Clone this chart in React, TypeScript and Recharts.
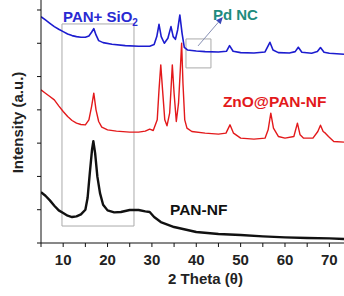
import { LineChart, Line, XAxis, YAxis, ReferenceArea, ReferenceDot, ReferenceLine } from 'recharts';

// 2θ positions and intensities (a.u., stacked offsets)
const panTheta = [5, 6, 7, 8, 9, 10, 11, 12, 13, 14, 15, 15.5, 16, 16.5, 16.8, 17.2, 17.7, 18.3, 19, 20, 21.5, 23, 25, 27, 28.5, 29.5, 30.5, 32, 35, 40, 45, 50, 55, 60, 65, 70, 73.3];
const panIntensity = [1.53, 1.42, 1.28, 1.12, 0.98, 0.9, 0.82, 0.78, 0.8, 0.86, 1.0, 1.35, 2.1, 2.8, 3.06, 2.7, 2.0, 1.5, 1.15, 0.98, 0.92, 0.93, 0.99, 0.99, 0.95, 0.93, 0.78, 0.63, 0.48, 0.33, 0.27, 0.24, 0.2, 0.17, 0.15, 0.14, 0.12];

const znoTheta = [5, 6, 7, 8, 9, 10, 11, 12, 13, 14, 15, 15.8, 16.4, 16.9, 17.4, 18, 18.7, 20, 22, 25, 27, 28.5, 29.5, 30.3, 31.2, 31.6, 32, 32.4, 32.9, 33.4, 34, 34.3, 34.6, 35, 35.5, 36, 36.4, 36.7, 37, 37.4, 37.9, 39, 42, 45, 46.7, 47.6, 48.4, 50, 53, 55.5, 56.2, 56.8, 57.4, 58.5, 60, 62, 62.8, 63.4, 64.2, 66.3, 67.4, 68, 68.6, 69.1, 69.8, 71, 73.3];
const znoIntensity = [4.6, 4.5, 4.4, 4.3, 4.12, 3.95, 3.8, 3.68, 3.6, 3.56, 3.55, 3.7, 4.1, 4.5, 4.0, 3.65, 3.48, 3.4, 3.36, 3.33, 3.33, 3.36, 3.42, 3.38, 3.7, 4.6, 5.35, 4.6, 3.7, 3.52, 3.9, 4.6, 5.35, 4.5, 3.65, 4.2, 5.2, 6.0, 4.8, 3.7, 3.45, 3.35, 3.3, 3.27, 3.3, 3.55, 3.3, 3.15, 3.12, 3.15, 3.4, 3.9, 3.45, 3.2, 3.15, 3.2, 3.6, 3.25, 3.15, 3.15, 3.35, 3.54, 3.35, 3.3, 3.2, 3.05, 3.03];

const sioTheta = [5, 6, 7, 8, 9, 10, 11, 12, 13, 14, 15, 15.8, 16.4, 16.9, 17.4, 18, 19, 21, 24, 27, 29.5, 30.5, 31.1, 31.6, 32.1, 32.8, 33.6, 34.3, 34.8, 35.3, 35.8, 36.3, 36.8, 37.3, 38, 40, 42, 45, 46.8, 47.5, 48.3, 50, 53, 55.5, 56.6, 57.3, 58.5, 61, 62.3, 63, 63.8, 66, 67.3, 68, 68.8, 70, 73.3];
const sioIntensity = [6.8, 6.7, 6.6, 6.5, 6.42, 6.35, 6.28, 6.23, 6.2, 6.18, 6.18, 6.22, 6.33, 6.44, 6.25, 6.08, 6.02, 5.97, 5.93, 5.91, 5.91, 5.96, 6.2, 6.57, 6.2, 6.0, 6.15, 6.5, 6.2, 6.12, 6.4, 6.85, 6.3, 5.88, 5.8, 5.77, 5.75, 5.74, 5.76, 5.93, 5.76, 5.72, 5.71, 5.74, 6.03, 5.8, 5.72, 5.71, 5.75, 5.88, 5.73, 5.7, 5.75, 5.87, 5.73, 5.7, 5.67];

const xTicks = [5, 10, 15, 20, 25, 30, 35, 40, 45, 50, 55, 60, 65, 70];
const yTicks = [0, 1, 2, 3, 4, 5, 6, 7];

const toRows = (xs: number[], ys: number[]) => xs.map((x, i) => ({ x, y: ys[i] }));
const panData = toRows(panTheta, panIntensity);
const znoData = toRows(znoTheta, znoIntensity);
const sioData = toRows(sioTheta, sioIntensity);

const FONT = '"Liberation Sans", Arial, sans-serif';

// text anchored at a data point (start of baseline)
const textAt = (color: string, size = 15, sub?: string) => (props: any) => {
  const vb = props.viewBox || {};
  const x = (vb.x ?? 0) + (vb.width ?? 0) / 2;
  const y = (vb.y ?? 0) + (vb.height ?? 0) / 2;
  return (
    <text x={x} y={y} fill={color} fontSize={size} fontWeight="bold" fontFamily={FONT} textAnchor="start">
      {props.value}
      {sub && <tspan fontSize={10} dy={4}>{sub}</tspan>}
    </text>
  );
};

function XTick({ x, y, payload }: any) {
  if (payload.value % 10 !== 0) return null;
  return (
    <text x={x} y={y} dy={18} textAnchor="middle" fill="#222" fontSize={15} fontWeight="bold" fontFamily={FONT}>
      {payload.value}
    </text>
  );
}

function Arrow(props: any) {
  const { x1, y1, x2, y2 } = props;
  const ang = Math.atan2(y2 - y1, x2 - x1);
  const len = 7;
  const w = 3;
  const bx = x2 - len * Math.cos(ang);
  const by = y2 - len * Math.sin(ang);
  const px = -Math.sin(ang) * w;
  const py = Math.cos(ang) * w;
  return (
    <g>
      <line x1={x1} y1={y1} x2={bx} y2={by} stroke="#8790b4" strokeWidth={1} />
      <polygon points={`${x2},${y2} ${bx + px},${by + py} ${bx - px},${by - py}`} fill="#3a46b8" />
    </g>
  );
}

export default function App() {
  return (
    <div style={{ position: 'absolute', left: 0, top: 0, width: 344, height: 296, background: '#fff', overflow: 'hidden' }}>
      <LineChart width={344} height={296} data={panData} margin={{ top: 0, right: 0, bottom: 0, left: 0 }}>
        <XAxis
          dataKey="x"
          type="number"
          domain={[5, 73.3]}
          allowDataOverflow
          ticks={xTicks}
          interval={0}
          height={53}
          tickSize={4}
          tickMargin={0}
          stroke="#111"
          tick={<XTick />}
          label={{
            value: '2 Theta (θ)',
            content: (p: any) => (
              <text x={p.viewBox.x + p.viewBox.width / 2 + 13} y={p.viewBox.y + 41} textAnchor="middle" fill="#222" fontSize={15} fontWeight="bold" fontFamily={FONT}>
                2 Theta (θ)
              </text>
            ),
          }}
        />
        <YAxis
          type="number"
          domain={[0, 7.3]}
          allowDataOverflow
          ticks={yTicks}
          width={41}
          tickSize={4}
          stroke="#111"
          tickFormatter={() => ''}
          label={{
            value: 'Intensity (a.u.)',
            content: (p: any) => {
              const cx = p.viewBox.x + 17.5;
              const cy = p.viewBox.y + p.viewBox.height / 2 + 1;
              return (
                <text x={cx} y={cy} transform={`rotate(-90 ${cx} ${cy})`} textAnchor="middle" dominantBaseline="central" fill="#222" fontSize={15} fontWeight="bold" fontFamily={FONT}>
                  Intensity (a.u.)
                </text>
              );
            },
          }}
        />

        <ReferenceArea x1={9.73} x2={25.96} y1={0.51} y2={6.58} fill="none" stroke="#aaa" strokeWidth={1} ifOverflow="visible" />
        <ReferenceArea x1={37.68} x2={43.31} y1={5.26} y2={6.13} fill="none" stroke="#aaa" strokeWidth={1} ifOverflow="visible" />

        <Line data={panData} dataKey="y" type="linear" stroke="#111" strokeWidth={2.4} strokeLinejoin="round" dot={false} isAnimationActive={false} />
        <Line data={znoData} dataKey="y" type="linear" stroke="#e3191b" strokeWidth={1.4} strokeLinejoin="round" dot={false} isAnimationActive={false} />
        <Line data={sioData} dataKey="y" type="linear" stroke="#1c1ccf" strokeWidth={1.6} strokeLinejoin="round" dot={false} isAnimationActive={false} />

        <ReferenceLine segment={[{ x: 40.4, y: 5.92 }, { x: 46, y: 6.79 }]} ifOverflow="visible" shape={<Arrow />} />

        <ReferenceDot x={9.96} y={6.64} r={0} fill="none" stroke="none" ifOverflow="visible" label={{ value: 'PAN+ SiO', content: textAt('#2a2ad2', 15, '2') }} />
        <ReferenceDot x={43.76} y={6.7} r={0} fill="none" stroke="none" ifOverflow="visible" label={{ value: 'Pd NC', content: textAt('#1e8c7e', 15) }} />
        <ReferenceDot x={46.0} y={4.08} r={0} fill="none" stroke="none" ifOverflow="visible" label={{ value: 'ZnO@PAN-NF', content: textAt('#e3191b', 15.5) }} />
        <ReferenceDot x={34.07} y={0.84} r={0} fill="none" stroke="none" ifOverflow="visible" label={{ value: 'PAN-NF', content: textAt('#111', 15.5) }} />
      </LineChart>
    </div>
  );
}
